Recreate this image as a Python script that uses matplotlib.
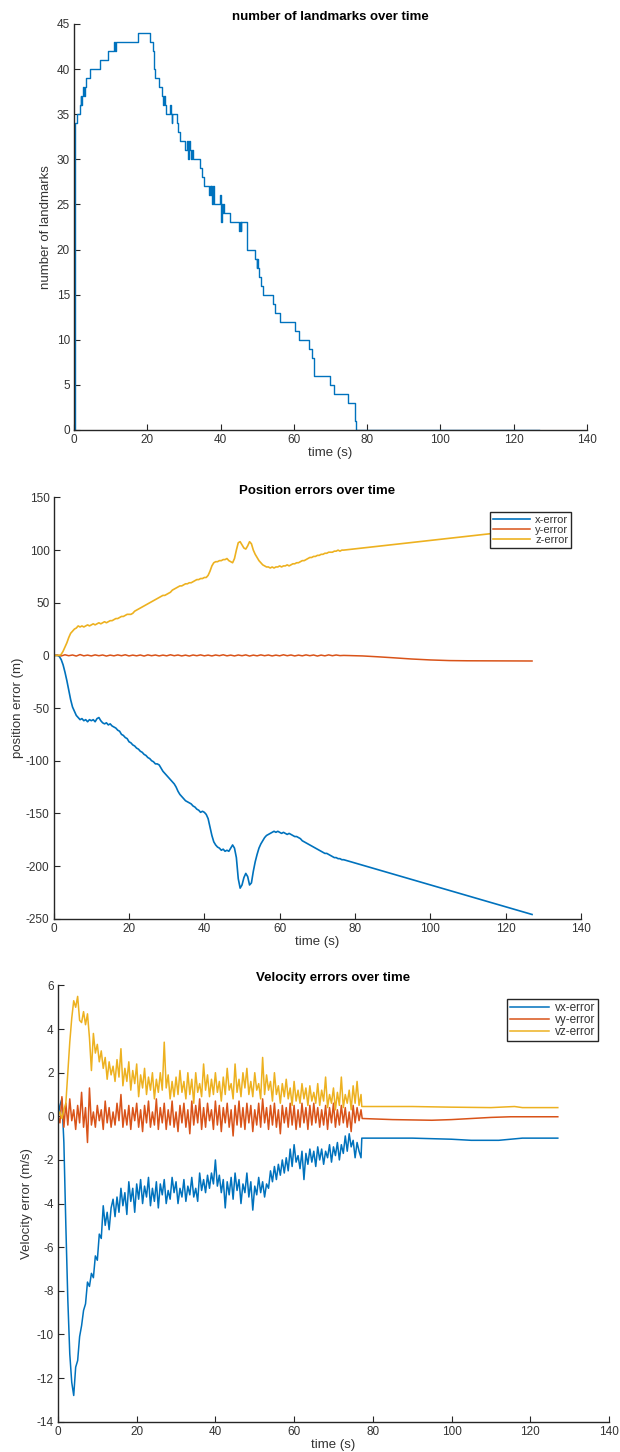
"""Landmark count, position error and velocity error over one run, stacked."""

import matplotlib

matplotlib.use("Agg")
import matplotlib.pyplot as plt
import numpy as np

plt.rcParams["font.family"] = ["Liberation Sans", "DejaVu Sans"]
plt.rcParams["axes.unicode_minus"] = False

BLUE = "#0072BD"
RED = "#D95319"
YELLOW = "#EDB120"
AXIS = "#262626"

# --- number of landmarks (step changes: time in s, count after the step) ---
LM_T = [0, 0.15, 0.9, 1.5, 1.8, 2.0, 2.2, 2.4, 2.7, 2.9, 3.3, 4.4, 7.2, 9.3,
        11.0, 11.2, 11.4, 17.4, 20.6, 21.6, 21.8, 21.9, 22.1, 23.1, 23.9,
        24.3, 24.6, 24.8, 25.0, 26.3, 26.5, 26.7, 26.8, 28.1, 28.4, 28.9,
        30.4, 30.7, 31.0, 31.4, 31.6, 32.0, 32.3, 32.5, 34.3, 34.8, 35.6,
        36.8, 37.0, 37.3, 37.5, 37.7, 37.9, 38.2, 39.9, 40.1, 40.3, 40.5,
        40.7, 41.0, 42.7, 45.0, 45.3, 45.5, 45.7, 47.3, 49.5, 49.8, 50.0,
        50.2, 50.6, 50.9, 51.5, 54.3, 54.9, 56.3, 60.4, 61.5, 64.2, 65.0,
        65.4, 65.6, 69.8, 71.0, 74.8, 76.6, 76.8, 77.0, 127.0]
LM_N = [0, 34, 35, 36, 37, 36, 37, 38, 37, 38, 39, 40, 41, 42,
        43, 42, 43, 44, 43, 42, 41, 40, 39, 38, 37,
        36, 37, 36, 35, 36, 35, 34, 35, 34, 33, 32,
        31, 32, 30, 32, 31, 30, 31, 30, 29, 28, 27,
        26, 27, 26, 27, 25, 27, 25, 26, 23, 25, 24,
        25, 24, 23, 22, 23, 22, 23, 20, 19, 18, 19,
        18, 17, 16, 15, 14, 13, 12, 11, 10, 9, 8,
        7, 6, 5, 4, 3, 2, 1, 0, 0]

# --- position errors (m), sampled every 0.5 s up to 77 s, then a last fix ---
DT_POS = 0.5
POS_X = [0, 0, 0, -1, -4, -9, -16, -24, -33, -42, -49, -53, -57, -59, -61, -60,
         -62, -61, -63, -61, -62, -61, -63, -60, -59, -62, -64, -65, -64, -66,
         -65, -67, -68, -69, -71, -72, -75, -76, -78, -79, -82, -83, -85, -86,
         -88, -89, -91, -92, -94, -95, -97, -98, -100, -101, -103, -103, -104,
         -107, -110, -112, -114, -116, -118, -120, -122, -125, -129, -132, -134,
         -136, -138, -139, -140, -141, -143, -144, -146, -147, -149, -148, -149,
         -151, -155, -163, -171, -177, -180, -182, -183, -185, -184, -186, -185,
         -186, -183, -180, -183, -192, -212, -221, -218, -211, -207, -210, -218,
         -216, -205, -196, -189, -183, -179, -176, -173, -171, -170, -169, -168,
         -167, -168, -167, -168, -169, -168, -169, -170, -169, -170, -171, -172,
         -172, -173, -174, -176, -177, -178, -179, -180, -181, -182, -183, -184,
         -185, -186, -187, -188, -188, -189, -190, -191, -192, -192, -193, -193,
         -194, -194]
POS_Z = [0, 0, 0, 0, 1, 4, 8, 12, 17, 21, 23, 25, 26, 28, 27, 28, 27, 28, 29,
         28, 29, 30, 29, 30, 31, 30, 31, 32, 31, 32, 33, 33, 34, 35, 35, 36, 37,
         37, 38, 39, 39, 39, 40, 42, 43, 44, 45, 46, 47, 48, 49, 50, 51, 52, 53,
         54, 55, 56, 57, 57, 58, 59, 60, 62, 63, 64, 65, 66, 66, 67, 68, 68, 69,
         69, 70, 71, 72, 72, 73, 73, 74, 74, 76, 80, 85, 88, 89, 89, 90, 90, 91,
         91, 92, 90, 89, 88, 92, 100, 107, 108, 105, 102, 101, 104, 108, 106,
         100, 96, 93, 90, 88, 86, 85, 84, 84, 83, 84, 83, 84, 84, 85, 84, 85, 85,
         86, 85, 86, 87, 87, 88, 88, 89, 90, 90, 91, 92, 93, 93, 94, 94, 95, 95,
         96, 96, 97, 97, 98, 98, 98, 99, 99, 100, 99, 100, 100]
DT_POS_Y = 1.0
POS_Y = [0, 0.2, -0.5, 0.6, -0.3, 0.4, -0.6, 0.8, -0.4, 0.3, -0.5, 0.5, -0.3,
         0.4, -0.6, 0.3, -0.4, 0.5, -0.3, 0.6, -0.5, 0.3, -0.4, 0.4, -0.6, 0.5,
         -0.3, 0.4, -0.5, 0.3, -0.4, 0.6, -0.3, 0.4, -0.5, 0.3, -0.6, 0.4, -0.3,
         0.5, -0.4, 0.3, -0.5, 0.4, -0.3, 0.6, -0.4, 0.3, -0.5, 0.4, -0.3, 0.5,
         -0.6, 0.3, -0.4, 0.5, -0.3, 0.4, -0.5, 0.3, -0.4, 0.6, -0.3, 0.4, -0.5,
         0.3, -0.4, 0.5, -0.3, 0.4, -0.6, 0.3, -0.4, 0.5, -0.3, 0.4, -0.2, 0.0]
POS_TAIL_T = [77, 127]
POS_X_TAIL = [-194, -246]
POS_Z_TAIL = [100, 120]
POS_Y_TAIL_T = [77, 82, 86, 90, 95, 100, 105, 110, 127]
POS_Y_TAIL = [0, -0.5, -1.3, -2.2, -3.4, -4.3, -4.9, -5.1, -5.3]

# --- velocity errors (m/s), sampled every 0.5 s up to 77 s ---
DT_VEL = 0.5
VEL_X = [0.0, 0.5, 0.8, -1.2, -5.0, -8.4, -10.9, -12.2, -12.8, -11.5, -11.2,
         -10.1, -9.6, -8.9, -8.6, -7.6, -7.8, -7.2, -7.4, -6.4, -6.6, -5.4,
         -5.6, -4.1, -5.0, -4.4, -5.2, -4.2, -3.8, -4.6, -3.7, -4.4, -3.3, -4.1,
         -3.5, -4.5, -3.0, -3.9, -3.3, -4.4, -3.1, -3.8, -2.9, -4.0, -3.2, -3.7,
         -2.8, -4.1, -3.3, -3.9, -3.0, -4.2, -3.1, -3.6, -2.9, -4.0, -3.4, -3.8,
         -2.8, -3.5, -3.0, -4.0, -3.3, -3.7, -2.9, -3.9, -3.2, -3.6, -2.8, -3.7,
         -3.3, -3.9, -2.6, -3.4, -2.9, -3.5, -2.7, -3.3, -2.6, -3.1, -2.0, -3.2,
         -2.7, -3.5, -2.9, -4.2, -3.0, -3.6, -2.8, -3.8, -2.6, -3.4, -2.9, -4.0,
         -3.1, -3.5, -2.6, -3.7, -3.0, -4.3, -3.2, -3.6, -2.8, -3.5, -3.0, -3.7,
         -3.1, -3.3, -2.5, -3.0, -2.3, -2.9, -2.2, -2.7, -2.0, -2.6, -1.9, -2.5,
         -1.5, -2.3, -1.3, -2.1, -1.8, -2.4, -1.6, -2.9, -1.7, -2.2, -1.5, -2.1,
         -1.6, -2.3, -1.4, -2.0, -1.5, -2.2, -1.6, -1.9, -1.3, -2.1, -1.4, -1.8,
         -1.2, -2.0, -1.3, -1.7, -0.9, -1.6, -0.8, -1.4, -1.1, -1.9, -1.2, -1.6,
         -1.9]
VEL_Y = [0.0, -0.3, 0.9, -0.5, 0.6, -0.4, 0.8, -0.2, 0.3, -0.6, 0.5, -0.3,
         1.1, -0.5, 0.4, -1.2, 1.3, -0.4, 0.2, -0.5, 0.5, -0.2, 0.3, -0.6, 0.7,
         -0.3, 0.4, -0.5, 0.2, -0.4, 0.6, -0.2, 1.0, -0.5, 0.3, -0.4, 0.5, -0.6,
         0.4, -0.2, 0.6, -0.5, 0.3, -0.7, 0.5, -0.3, 0.7, -0.5, 0.2, -0.4, 0.8,
         -0.6, 0.4, -0.3, 0.6, -0.6, 0.3, -0.4, 0.7, -0.5, 0.2, -0.7, 0.5, -0.3,
         0.6, -0.5, 0.3, -0.8, 0.7, -0.4, 0.5, -0.3, 0.8, -0.6, 0.4, -0.5, 0.6,
         -0.2, 0.3, -0.6, 0.7, -0.4, 0.5, -0.7, 0.4, -0.3, 0.6, -0.5, 0.3, -0.9,
         0.5, -0.4, 0.7, -0.5, 0.4, -0.6, 0.6, -0.3, 0.5, -0.7, 0.3, -0.4, 0.6,
         -0.5, 0.8, -0.3, 0.4, -0.6, 0.5, -0.4, 0.6, -0.5, 0.3, -0.8, 0.5, -0.3,
         0.4, -0.5, 0.6, -0.4, 0.5, -0.6, 0.3, -0.5, 0.6, -0.3, 0.4, -0.6, 0.5,
         -0.4, 0.6, -0.3, 0.4, -0.5, 0.3, -0.4, 0.5, -0.6, 0.4, -0.3, 0.6, -0.5,
         0.3, -0.4, 0.5, -0.3, 0.4, -0.5, 0.2, -0.7, 0.5, -0.3, 0.4, -0.2, 0.3]
VEL_Z = [0.0, 0.2, -0.1, 0.3, 0.6, 2.0, 3.4, 4.5, 5.3, 5.0, 5.5, 4.4, 4.3,
         4.8, 4.2, 4.7, 3.6, 2.1, 3.8, 2.9, 3.3, 2.5, 3.0, 2.2, 2.7, 1.7, 2.5,
         1.9, 2.3, 1.6, 2.6, 1.8, 3.1, 1.4, 2.2, 1.6, 2.5, 1.2, 2.1, 1.5, 2.4,
         0.9, 1.9, 1.3, 2.2, 1.0, 1.8, 1.2, 2.0, 0.8, 1.7, 1.1, 2.0, 1.2, 3.4,
         1.3, 1.9, 0.8, 1.6, 0.9, 1.8, 1.0, 2.1, 1.1, 1.6, 0.8, 2.0, 1.0, 1.7,
         0.6, 2.0, 1.1, 1.5, 0.9, 2.4, 1.2, 1.9, 0.9, 1.7, 1.0, 2.0, 1.1, 1.6,
         0.7, 1.8, 1.0, 2.2, 1.2, 1.5, 0.8, 2.4, 1.1, 1.7, 0.9, 2.0, 1.3, 2.2,
         1.0, 1.6, 0.9, 2.0, 1.2, 1.5, 0.8, 2.7, 1.0, 1.9, 1.2, 1.6, 0.7, 2.0,
         1.0, 1.4, 0.6, 1.5, 0.9, 1.7, 0.8, 1.3, 0.5, 1.6, 0.7, 1.2, 0.6, 1.5,
         0.8, 1.3, 0.5, 1.4, 0.7, 1.1, 0.6, 1.5, 0.5, 1.2, 0.7, 1.8, 0.4, 1.0,
         0.6, 1.3, 0.3, 1.1, 0.5, 1.8, 0.4, 1.0, 0.6, 1.2, 0.3, 1.4, 0.6, 1.6,
         0.5, 1.0]
VEL_X_TAIL_T = [77.0, 77.2, 90, 100, 105, 112, 118, 127]
VEL_X_TAIL = [-1.9, -1.0, -1.0, -1.05, -1.1, -1.1, -1.0, -1.0]
VEL_Y_TAIL_T = [77.0, 77.3, 85, 95, 100, 105, 110, 115, 127]
VEL_Y_TAIL = [0.3, -0.1, -0.15, -0.18, -0.15, -0.1, -0.05, -0.02, -0.02]
VEL_Z_TAIL_T = [77.0, 77.2, 90, 100, 110, 116, 118, 127]
VEL_Z_TAIL = [1.0, 0.45, 0.45, 0.42, 0.4, 0.45, 0.4, 0.4]


def _style(ax, yticks):
    """MATLAB-ish box-off axes: inward ticks, left/bottom spines only."""
    for s in ("top", "right"):
        ax.spines[s].set_visible(False)
    for s in ("left", "bottom"):
        ax.spines[s].set_color(AXIS)
        ax.spines[s].set_linewidth(1.0)
    ax.tick_params(direction="in", length=4, width=0.8, colors=AXIS,
                   labelcolor="#333333", labelsize=8.5, pad=3)
    ax.set_xlim(0, 140)
    ax.set_xticks(range(0, 141, 20))
    ax.set_ylim(yticks[0], yticks[-1])
    ax.set_yticks(yticks)
    ax.set_xlabel("time (s)", fontsize=9.5, color="#333333", labelpad=1)


def _legend(ax, labels, anchor, size):
    leg = ax.legend(labels, loc="upper right", bbox_to_anchor=anchor,
                    fontsize=size, frameon=True, fancybox=False,
                    framealpha=1, borderaxespad=0, borderpad=0.25,
                    labelspacing=0.0, handlelength=3.3, handletextpad=0.5)
    leg.get_frame().set_edgecolor(AXIS)
    leg.get_frame().set_linewidth(1.0)
    for txt in leg.get_texts():
        txt.set_color("#333333")


fig = plt.figure(figsize=(6.2, 14.52), dpi=100)
fig.patch.set_facecolor("white")

# landmarks
ax1 = fig.add_axes([0.1194, 0.7039, 0.8274, 0.2796])
ax1.plot(LM_T, LM_N, drawstyle="steps-post", color=BLUE, linewidth=1.0)
_style(ax1, list(range(0, 46, 5)))
ax1.set_ylabel("number of landmarks", fontsize=9.5, color="#333333", labelpad=3)
ax1.set_title("number of landmarks over time", fontsize=9.5, fontweight="bold",
              pad=3)

# position errors
ax2 = fig.add_axes([0.0866, 0.3673, 0.8505, 0.2901])
tp = np.arange(len(POS_X)) * DT_POS
ty = np.arange(len(POS_Y)) * DT_POS_Y
ax2.plot(np.r_[tp, POS_TAIL_T], np.r_[POS_X, POS_X_TAIL], color=BLUE, lw=1.2)
ax2.plot(np.r_[ty, POS_Y_TAIL_T], np.r_[POS_Y, POS_Y_TAIL], color=RED, lw=1.1)
tz = np.arange(len(POS_Z)) * DT_POS
ax2.plot(np.r_[tz, POS_TAIL_T], np.r_[POS_Z, POS_Z_TAIL], color=YELLOW, lw=1.2)
_style(ax2, list(range(-250, 151, 50)))
ax2.set_ylabel("position error (m)", fontsize=9.5, color="#333333", labelpad=1.5)
ax2.set_title("Position errors over time", fontsize=9.5, fontweight="bold",
              pad=1.5)
_legend(ax2, ["x-error", "y-error", "z-error"], (0.981, 0.9656), 8)

# velocity errors
ax3 = fig.add_axes([0.0935, 0.0209, 0.8887, 0.3004])
tv = np.arange(len(VEL_X)) * DT_VEL
ax3.plot(np.r_[tv, VEL_X_TAIL_T], np.r_[VEL_X, VEL_X_TAIL], color=BLUE, lw=1.1)
tv = np.arange(len(VEL_Y)) * DT_VEL
ax3.plot(np.r_[tv, VEL_Y_TAIL_T], np.r_[VEL_Y, VEL_Y_TAIL], color=RED, lw=1.1)
tv = np.arange(len(VEL_Z)) * DT_VEL
ax3.plot(np.r_[tv, VEL_Z_TAIL_T], np.r_[VEL_Z, VEL_Z_TAIL], color=YELLOW, lw=1.1)
_style(ax3, list(range(-14, 7, 2)))
ax3.set_ylabel("Velocity error (m/s)", fontsize=9.5, color="#333333",
               labelpad=2.5)
ax3.set_title("Velocity errors over time", fontsize=9.5, fontweight="bold",
              pad=3)
_legend(ax3, ["vx-error", "vy-error", "vz-error"], (0.980, 0.969), 8.5)

fig.savefig("out.png", dpi=100, facecolor="white")
